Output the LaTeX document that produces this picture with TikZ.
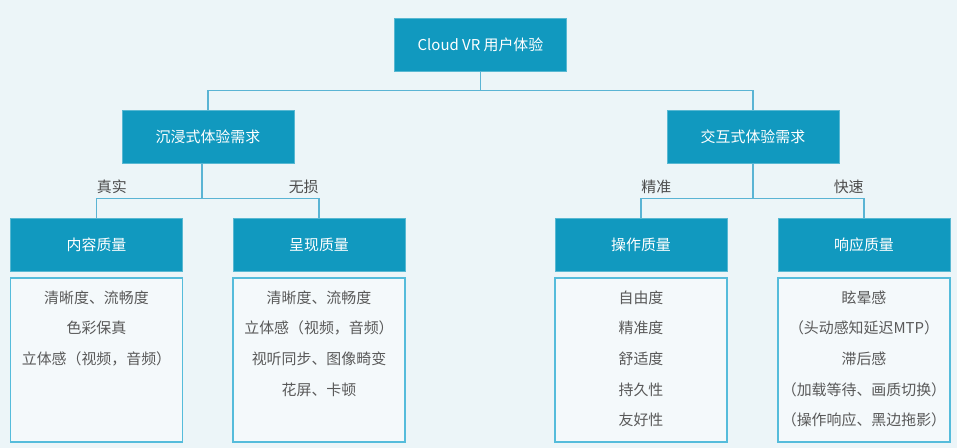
\documentclass[tikz,border=0pt]{standalone}
\usepackage{fontspec}
\setmainfont{Noto Sans CJK SC}
\usetikzlibrary{positioning}

\definecolor{bgcol}{HTML}{ECF5F8}
\definecolor{boxblue}{HTML}{1199BF}
\definecolor{linkblue}{HTML}{5AB4D4}
\definecolor{listblue}{HTML}{55BCDB}
\definecolor{txtgrey}{HTML}{595959}

\tikzset{
  headbox/.style={fill=boxblue, draw=boxblue!70!white, line width=0.4pt,
    minimum width=3.44cm, minimum height=1.06cm, inner sep=0pt,
    text=white, font=\fontsize{8.5}{10}\selectfont},
  listbox/.style={draw=listblue, line width=0.9pt, fill=bgcol!60!white,
    minimum width=3.44cm, minimum height=3.28cm, inner sep=0pt},
  listtext/.style={align=center, text=txtgrey, inner sep=0pt,
    font=\fontsize{8.5}{17.4}\selectfont},
  link/.style={draw=linkblue, line width=0.6pt},
  linklabel/.style={text=txtgrey!85!black, inner sep=0pt,
    font=\fontsize{8.5}{10}\selectfont}
}

\begin{document}
\begin{tikzpicture}[x=0.02cm, y=-0.02cm]
    % Background
    \fill[bgcol] (0,0) rectangle (957,448);
    \useasboundingbox (0,0) rectangle (957,448);

    % Top box
    \node[headbox] (top) at (480.5,44.5) {Cloud VR 用户体验};

    % Second level
    \node[headbox] (lmid) at (208,136.5) {沉浸式体验需求};
    \node[headbox] (rmid) at (753,136.5) {交互式体验需求};

    % Third level
    \node[headbox] (lc) at (96.5,244.5) {内容质量};
    \node[headbox] (lp) at (319,244.5) {呈现质量};
    \node[headbox] (rc) at (641,244.5) {操作质量};
    \node[headbox] (rp) at (864,244.5) {响应质量};

    % Lists
    \node[listbox, below=0.12cm of lc] (lcl) {};
    \node[listbox, below=0.12cm of lp] (lpl) {};
    \node[listbox, below=0.12cm of rc] (rcl) {};
    \node[listbox, below=0.12cm of rp] (rpl) {};

    \node[listtext, anchor=north] (lclt) at ([yshift=-0.26cm]lcl.north)
      {清晰度、流畅度\\色彩保真\\立体感（视频，音频）};
    \node[listtext, anchor=north] (lplt) at ([yshift=-0.26cm]lpl.north)
      {清晰度、流畅度\\立体感（视频，音频）\\视听同步、图像畸变\\花屏、卡顿};
    \node[listtext, anchor=north] (rclt) at ([yshift=-0.26cm]rcl.north)
      {自由度\\精准度\\舒适度\\持久性\\友好性};
    \node[listtext, anchor=north] (rplt) at ([yshift=-0.26cm]rpl.north)
      {眩晕感\\（头动感知延迟MTP）\\滞后感\\（加载等待、画质切换）\\（操作响应、黑边拖影）};

    % Connectors
    \draw[link] (top.south) -- ++(0,19) coordinate (tj) -| (lmid.north);
    \draw[link] (tj) -| (rmid.north);

    \draw[link] ([xshift=-0.12cm]lmid.south) -- ++(0,35) coordinate (lj) -| (lc.north);
    \draw[link] (lj) -| (lp.north);
    \draw[link] (rmid.south) -- ++(0,35) coordinate (rj) -| (rc.north);
    \draw[link] (rj) -| (rp.north);

    % Branch labels
    \node[linklabel, anchor=south west] (lcla) at ([yshift=0.08cm]lc.north |- lj) {真实};
    \node[linklabel, anchor=south east] (lpla) at ([yshift=0.08cm]lp.north |- lj) {无损};
    \node[linklabel, anchor=south west] (rcla) at ([yshift=0.08cm]rc.north |- rj) {精准};
    \node[linklabel, anchor=south east] (rpla) at ([yshift=0.08cm]rp.north |- rj) {快速};
\end{tikzpicture}
\end{document}
